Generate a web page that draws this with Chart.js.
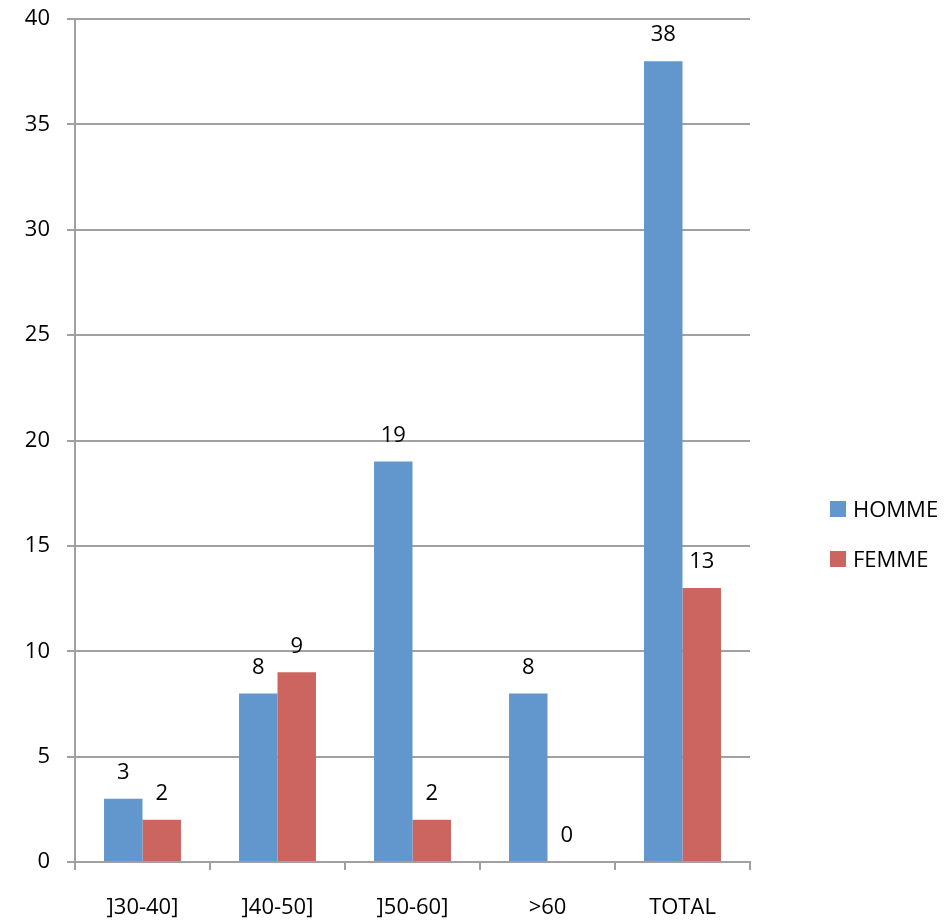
<!DOCTYPE html>
<html>
<head>
<meta charset="utf-8">
<script src="https://cdn.jsdelivr.net/npm/chart.js@4/dist/chart.umd.min.js"></script>
<style>
  html, body { margin: 0; padding: 0; background: #ffffff; }
  #wrap { width: 950px; height: 921px; position: relative; }
</style>
</head>
<body>
<div id="wrap"><canvas id="c" width="950" height="921"></canvas></div>
<script>
const categories = [']30-40]', ']40-50]', ']50-60]', '>60', 'TOTAL'];
const homme = [3, 8, 19, 8, 38];
const femme = [2, 9, 2, 0, 13];
const seriesNames = ['HOMME', 'FEMME'];
const yTicks = [0, 5, 10, 15, 20, 25, 30, 35, 40];

const FONT = '"Open Sans", "Liberation Sans", sans-serif';
const FS = 22;
const GRID = '#a0a0a0';

const valueLabels = {
  id: 'valueLabels',
  afterDatasetsDraw(chart) {
    const ctx = chart.ctx;
    ctx.save();
    ctx.font = FS + 'px ' + FONT;
    ctx.fillStyle = '#000';
    ctx.textAlign = 'center';
    ctx.textBaseline = 'middle';
    chart.data.datasets.forEach((ds, i) => {
      const meta = chart.getDatasetMeta(i);
      meta.data.forEach((bar, j) => {
        ctx.fillText(String(ds.data[j]), bar.x, bar.y - 26);
      });
    });
    ctx.restore();
  }
};

const sideLegend = {
  id: 'sideLegend',
  afterDraw(chart) {
    const ctx = chart.ctx;
    ctx.save();
    ctx.font = FS + 'px ' + FONT;
    ctx.textAlign = 'left';
    ctx.textBaseline = 'middle';
    chart.data.datasets.forEach((ds, i) => {
      const cy = 509 + i * 50;
      ctx.fillStyle = ds.backgroundColor;
      ctx.fillRect(830, cy - 8, 16, 16);
      ctx.fillStyle = '#000';
      ctx.fillText(ds.label, 853, cy + 2);
    });
    ctx.restore();
  }
};

new Chart(document.getElementById('c'), {
  type: 'bar',
  data: {
    labels: categories,
    datasets: [
      { label: seriesNames[0], data: homme, backgroundColor: '#6197cc' },
      { label: seriesNames[1], data: femme, backgroundColor: '#cc6560' }
    ]
  },
  options: {
    responsive: false,
    animation: false,
    devicePixelRatio: 1,
    layout: { padding: { top: 19, right: 200, left: 0, bottom: 0 } },
    plugins: { legend: { display: false }, tooltip: { enabled: false } },
    datasets: { bar: { categoryPercentage: 0.57, barPercentage: 1.0 } },
    scales: {
      x: {
        grid: { display: true, drawOnChartArea: false, drawTicks: true, tickLength: 8, color: GRID, lineWidth: 2, offset: true },
        border: { display: true, color: GRID, width: 2 },
        ticks: { color: '#000', font: { family: FONT, size: FS }, padding: 25, maxRotation: 0 },
        afterFit(s) { s.height = 59; s.paddingLeft = 0; s.paddingRight = 0; }
      },
      y: {
        min: 0, max: 40,
        afterBuildTicks(s) { s.ticks = yTicks.map(v => ({ value: v })); },
        grid: { color: GRID, lineWidth: 2, drawTicks: true, tickLength: 8 },
        border: { display: true, color: GRID, width: 2 },
        ticks: { color: '#000', font: { family: FONT, size: FS }, padding: 17 },
        afterFit(s) { s.width = 75; s.paddingTop = 0; s.paddingBottom = 0; }
      }
    }
  },
  plugins: [valueLabels, sideLegend]
});
</script>
</body>
</html>
